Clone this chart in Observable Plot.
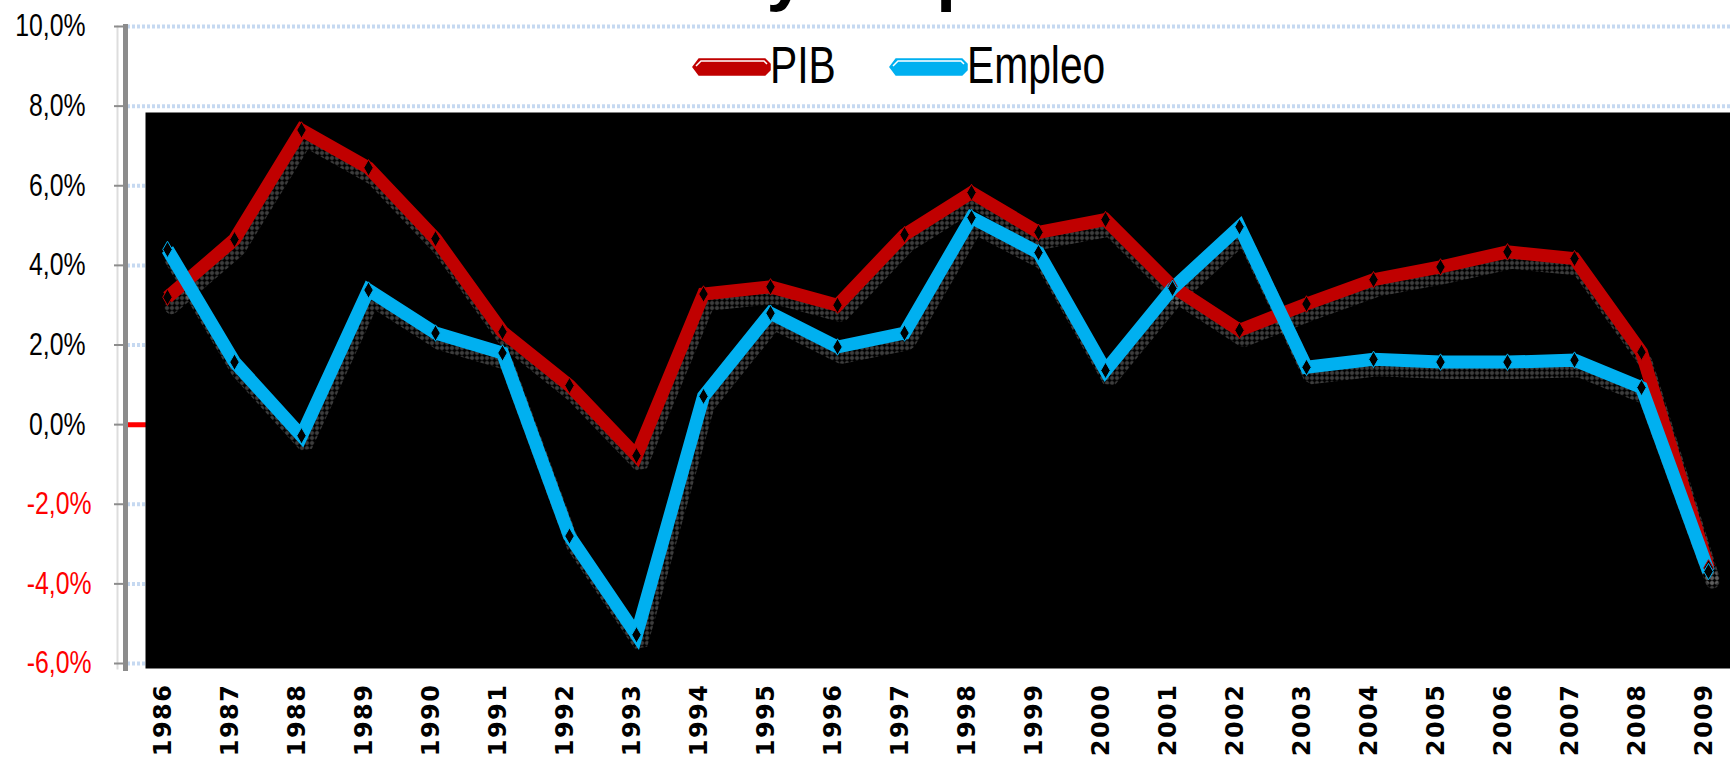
<!DOCTYPE html>
<html><head><meta charset="utf-8">
<script src="https://cdn.jsdelivr.net/npm/d3@7"></script>
<script src="https://cdn.jsdelivr.net/npm/@observablehq/plot@0.6"></script>
<style>
body{margin:0;background:#fff;}
#wrap{position:relative;width:1730px;height:760px;overflow:hidden;background:#fff;}
#legend{position:absolute;left:0;top:0;}
g[aria-label="x-axis tick label"] text{letter-spacing:1.5px;}
</style></head><body><div id="wrap"></div>
<script>
const years = ["1986","1987","1988","1989","1990","1991","1992","1993","1994","1995","1996","1997","1998","1999","2000","2001","2002","2003","2004","2005","2006","2007","2008","2009"];
const pib = [3.2, 4.65, 7.4, 6.45, 4.67, 2.33, 0.98, -0.78, 3.28, 3.46, 3.0, 4.77, 5.83, 4.83, 5.15, 3.47, 2.37, 3.03, 3.64, 3.96, 4.34, 4.17, 1.82, -3.6];
const empleo = [4.4, 1.57, -0.28, 3.38, 2.3, 1.8, -2.8, -5.28, 0.71, 2.8, 1.95, 2.3, 5.2, 4.32, 1.36, 3.42, 4.97, 1.44, 1.64, 1.57, 1.57, 1.62, 0.93, -3.69];
const yTicks = [-6, -4, -2, 0, 2, 4, 6, 8, 10];
const seriesNames = ["PIB", "Empleo"];
const seriesColors = ["#c00000", "#00b0f0"];
const title = "PIB y Empleo";

const rows = [
  ...pib.map((v, i) => ({year: years[i], value: v, serie: seriesNames[0]})),
  ...empleo.map((v, i) => ({year: years[i], value: v, serie: seriesNames[1]}))
];
const fmt = d => d.toFixed(1).replace(".", ",") + "%";
const sans = "'Liberation Sans', Arial, sans-serif";

const chart = Plot.plot({
  width: 1730, height: 760,
  marginTop: 26, marginBottom: 97, marginLeft: 145, marginRight: 0,
  style: {background: "white", overflow: "visible"},
  x: {type: "point", domain: years, padding: 0.22},
  y: {domain: [-6, 10]},
  color: {domain: seriesNames, range: seriesColors},
  marks: [
    Plot.ruleY(yTicks, {stroke: "#c6d9f1", strokeWidth: 4, strokeDasharray: "3 2", insetLeft: -18}),
    Plot.ruleY([0], {stroke: "#ff0000", strokeWidth: 5, insetLeft: -22}),
    Plot.frame({fill: "black", stroke: "none", insetTop: 86, insetBottom: -5}),
    Plot.frame({anchor: "left", stroke: "#dddddd", strokeWidth: 2, dx: -28, insetBottom: -5}),
    Plot.frame({anchor: "left", stroke: "#8c8c8c", strokeWidth: 5, dx: -20, insetBottom: -5}),
    Plot.axisY(yTicks.filter(d => d >= 0), {anchor: "left", dx: -21, tickSize: 10, tickPadding: 29, stroke: "#8c8c8c", strokeWidth: 2, fill: "black", fontSize: 31, fontFamily: sans, tickFormat: fmt, label: null}),
    Plot.axisY(yTicks.filter(d => d < 0), {anchor: "left", dx: -21, tickSize: 10, tickPadding: 23, stroke: "#8c8c8c", strokeWidth: 2, fill: "#ff0000", fontSize: 31, fontFamily: sans, tickFormat: fmt, label: null}),
    Plot.axisX({anchor: "bottom", tickSize: 0, tickPadding: 20, tickRotate: -90, fontSize: 24, fontWeight: "bold", fontFamily: "'DejaVu Sans', sans-serif", fill: "black", dx: -4, label: null}),
    Plot.line(rows, {x: "year", y: "value", z: "serie", stroke: "url(#dots)", strokeWidth: 14, dx: 4, dy: 10, strokeLinejoin: "miter"}),
    Plot.line(rows, {x: "year", y: "value", z: "serie", stroke: "serie", strokeWidth: 13, strokeLinejoin: "miter", strokeMiterlimit: 4, strokeLinecap: "butt"}),
    Plot.dot(rows, {x: "year", y: "value", symbol: "diamond", r: 5, fill: "black", stroke: "serie", strokeWidth: 1}),
    Plot.text([title], {text: d => d, frameAnchor: "top-left", dx: 483, dy: -30, lineAnchor: "bottom", textAnchor: "start", fontSize: 71, fontWeight: "bold", fontFamily: sans, fill: "black"})
  ]
});

const defs = d3.select(chart).insert("defs", ":first-child");
const pat = defs.append("pattern").attr("id", "dots").attr("patternUnits", "userSpaceOnUse").attr("width", 5).attr("height", 5);
pat.append("circle").attr("cx", 2.5).attr("cy", 2.5).attr("r", 1.3).attr("fill", "none").attr("stroke", "#8a8a8a").attr("stroke-width", 0.9);

// condense the y tick labels horizontally
d3.select(chart).selectAll('g[aria-label="y-axis tick label"] text').each(function() {
  const t = this.getAttribute("transform") || "";
  this.setAttribute("transform", t + " scale(0.8,1)");
});

const wrap = document.getElementById("wrap");
wrap.appendChild(chart);

// Legend overlay
const legendX = [693, 890];
const lg = d3.select(wrap).append("svg").attr("id", "legend").attr("width", 1730).attr("height", 110);
seriesNames.forEach((name, i) => {
  const g = lg.append("g").attr("transform", `translate(${legendX[i]},57)`);
  g.append("polygon").attr("points", "0,10 6,2 72,2 77,7 77,13 72,18 6,18")
    .attr("fill", seriesColors[i]).attr("stroke", seriesColors[i]).attr("stroke-width", 1.5);
  g.append("polyline").attr("points", "3,9 8,4 71,4 74,7").attr("fill", "none").attr("stroke", "white").attr("stroke-width", 1.5);
  g.append("text").attr("transform", "translate(77,26) scale(0.8,1)").attr("font-size", 51).attr("font-family", sans)
    .attr("fill", "black").text(name);
});
</script></body></html>
